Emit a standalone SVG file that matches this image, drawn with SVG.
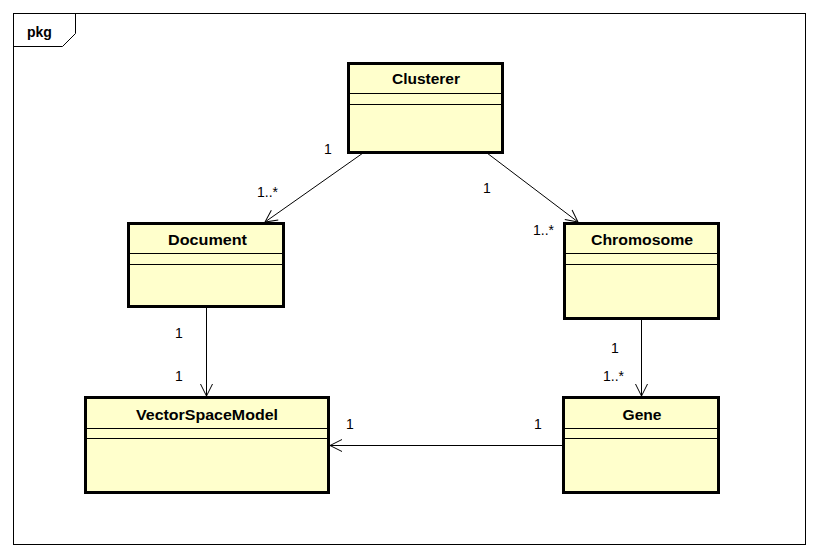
<svg xmlns="http://www.w3.org/2000/svg" width="820" height="558" viewBox="0 0 820 558">
  <defs>
    <style>
      .frame { fill: none; stroke: #000; stroke-width: 1; }
      .cls { fill: #ffffcc; stroke: #000; stroke-width: 3; }
      .sep { stroke: #000; stroke-width: 1; }
      .title { font-family: "Liberation Sans", Arial, sans-serif; font-weight: bold; font-size: 14px; fill: #000; text-anchor: middle; }
      .mult { font-family: "Liberation Sans", Arial, sans-serif; font-size: 14px; fill: #000; }
      .edge { fill: none; stroke: #000; stroke-width: 1; }
      .pkg { font-family: "Liberation Sans", Arial, sans-serif; font-weight: bold; font-size: 14px; fill: #000; }
    </style>
    <marker id="open" viewBox="0 0 14 14" refX="13" refY="7" markerWidth="14" markerHeight="14" markerUnits="userSpaceOnUse" orient="auto">
      <path d="M1,1 L13,7 L1,13" fill="none" stroke="#000" stroke-width="1"/>
    </marker>
  </defs>

  <rect width="820" height="558" fill="#fff"/>

  <!-- package frame with name tab -->
  <g id="package">
    <rect class="frame" x="13.5" y="13.5" width="792" height="531"/>
    <path class="frame" d="M75.5,13.5 V33.5 L62.5,46.5 H13.5"/>
    <text class="pkg" x="27" y="37">pkg</text>
  </g>

  <!-- associations -->
  <g id="connectors">
    <line class="edge" x1="363" y1="153" x2="265" y2="222" marker-end="url(#open)"/>
    <line class="edge" x1="487" y1="153" x2="578" y2="222" marker-end="url(#open)"/>
    <line class="edge" x1="206.5" y1="308" x2="206.5" y2="396" marker-end="url(#open)"/>
    <line class="edge" x1="641.5" y1="320" x2="641.5" y2="396" marker-end="url(#open)"/>
    <line class="edge" x1="563" y1="445.5" x2="330" y2="445.5" marker-end="url(#open)"/>

    <text class="mult" x="324" y="154">1</text>
    <text class="mult" x="257" y="197">1..*</text>
    <text class="mult" x="483" y="193">1</text>
    <text class="mult" x="533" y="235">1..*</text>
    <text class="mult" x="175" y="338">1</text>
    <text class="mult" x="175" y="381">1</text>
    <text class="mult" x="611" y="353">1</text>
    <text class="mult" x="603" y="381">1..*</text>
    <text class="mult" x="346" y="429">1</text>
    <text class="mult" x="534" y="429">1</text>
  </g>

  <g id="Clusterer">
    <rect class="cls" x="348.5" y="63.5" width="154" height="89"/>
    <line class="sep" x1="348" y1="93.5" x2="503" y2="93.5"/>
    <line class="sep" x1="348" y1="104.5" x2="503" y2="104.5"/>
    <text class="title" x="426" y="84" textLength="68" lengthAdjust="spacingAndGlyphs">Clusterer</text>
  </g>

  <g id="Document">
    <rect class="cls" x="128.5" y="223.5" width="155" height="83"/>
    <line class="sep" x1="128" y1="253.5" x2="284" y2="253.5"/>
    <line class="sep" x1="128" y1="264.5" x2="284" y2="264.5"/>
    <text class="title" x="207.5" y="245" textLength="79" lengthAdjust="spacingAndGlyphs">Document</text>
  </g>

  <g id="Chromosome">
    <rect class="cls" x="564.5" y="223.5" width="154" height="95"/>
    <line class="sep" x1="564" y1="253.5" x2="719" y2="253.5"/>
    <line class="sep" x1="564" y1="264.5" x2="719" y2="264.5"/>
    <text class="title" x="642" y="245" textLength="102" lengthAdjust="spacingAndGlyphs">Chromosome</text>
  </g>

  <g id="VectorSpaceModel">
    <rect class="cls" x="85.5" y="397.5" width="243" height="95"/>
    <line class="sep" x1="85" y1="428.5" x2="329" y2="428.5"/>
    <line class="sep" x1="85" y1="438.5" x2="329" y2="438.5"/>
    <text class="title" x="207" y="420" textLength="142" lengthAdjust="spacingAndGlyphs">VectorSpaceModel</text>
  </g>

  <g id="Gene">
    <rect class="cls" x="563.5" y="397.5" width="155" height="95"/>
    <line class="sep" x1="563" y1="428.5" x2="719" y2="428.5"/>
    <line class="sep" x1="563" y1="438.5" x2="719" y2="438.5"/>
    <text class="title" x="642" y="420" textLength="39" lengthAdjust="spacingAndGlyphs">Gene</text>
  </g>
</svg>
